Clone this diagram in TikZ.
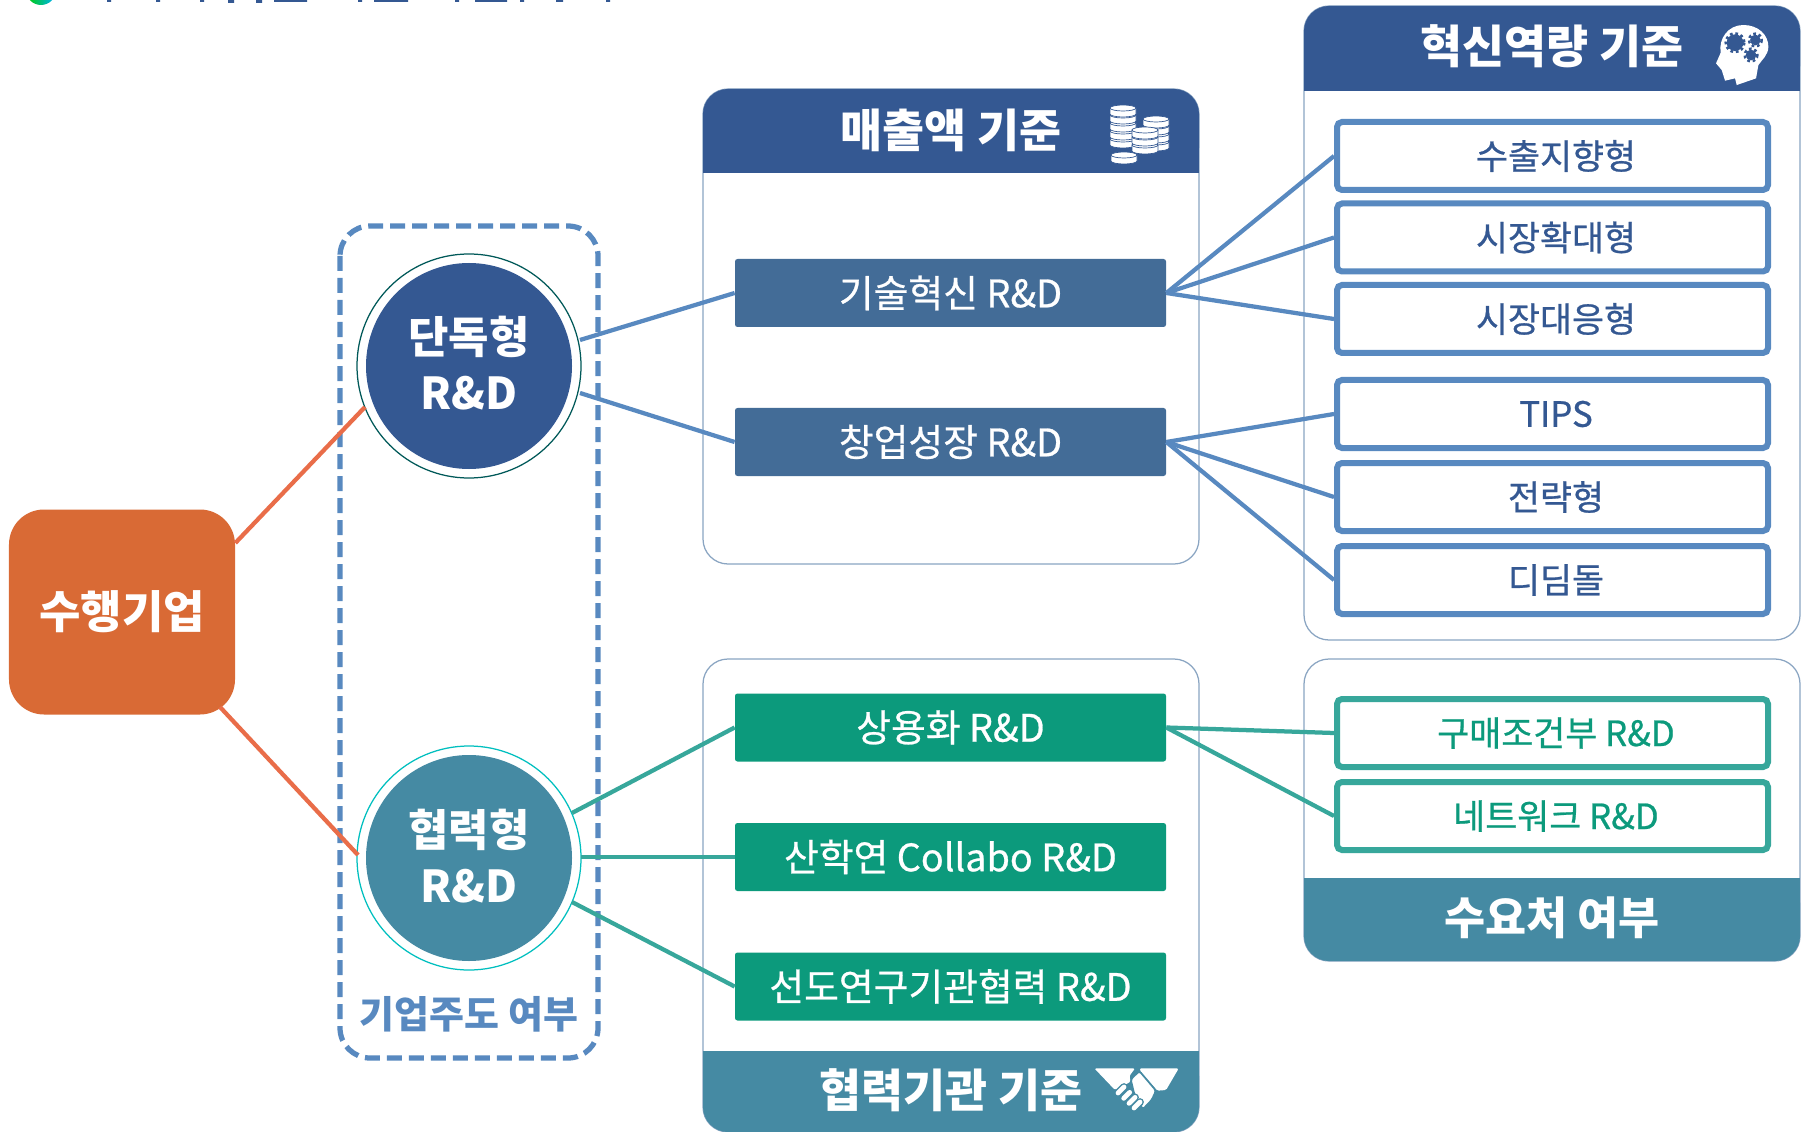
\documentclass[tikz,border=0pt]{standalone}
\usepackage{fontspec}
\setmainfont{Noto Sans CJK KR}
\newfontfamily\medf[FakeBold=0.7]{Noto Sans CJK KR}
\usetikzlibrary{calc}
\definecolor{navy}{HTML}{345892}
\definecolor{teal1}{HTML}{458AA3}
\definecolor{orng}{HTML}{D96A35}
\definecolor{orline}{HTML}{E96D49}
\definecolor{bluel}{HTML}{5889C0}
\definecolor{steel}{HTML}{436C97}
\definecolor{grn}{HTML}{0C9A7C}
\definecolor{grnl}{HTML}{37A79B}
\definecolor{pnl}{HTML}{8AA5C2}
% one disc of a coin stack: centre x, top y, half width
\newcommand{\coin}[3]{%
  \fill[white,draw=navy,line width=0.14mm] (#1-#3,#2) -- (#1-#3,#2+6) arc[start angle=180,end angle=0,x radius=#3,y radius=3] -- (#1+#3,#2) -- cycle;
  \fill[white,draw=navy,line width=0.14mm] (#1,#2) ellipse[x radius=#3,y radius=3];
}
\newcommand{\gear}[3]{%
  \fill[navy] (#1,#2) circle (#3);
  \draw[navy,line width=0.5mm,dash pattern=on 0.55mm off 0.55mm] (#1,#2) circle (#3+3);
}
\newcommand{\finger}[2]{%
  \draw[teal1,line width=1.55mm,line cap=round] (#1-9,#2+9) -- (#1+9,#2-9);
  \draw[white,line width=0.95mm,line cap=round] (#1-9,#2+9) -- (#1+9,#2-9);
}
\tikzset{x=0.2mm,y=-0.2mm,
 conn/.style={line width=0.85mm},
 bluec/.style={conn,draw=bluel},
 grnc/.style={conn,draw=grnl},
 orc/.style={conn,draw=orline},
 wbox/.style={draw=bluel,line width=1.2mm,fill=white,rounded corners=1mm,minimum width=86.2mm,minimum height=13.6mm,inner sep=0pt,text=navy,font=\fontsize{19.8}{24}\medf\selectfont,execute at begin node=\hspace*{1.4mm}},
 gbox/.style={wbox,draw=grnl,text=grn},
 bar/.style={fill=steel,rounded corners=0.5mm,minimum width=86.2mm,minimum height=13.6mm,inner sep=0pt,text=white,font=\fontsize{21.5}{25}\medf\selectfont},
 gbar/.style={bar,fill=grn},
 head/.style={text=white,inner sep=0pt,font=\fontsize{26}{30}\bfseries\selectfont},
 pnlb/.style={draw=pnl,line width=0.25mm,fill=white,rounded corners=5mm},
 disc/.style={circle,fill=navy,minimum size=41.2mm,inner sep=0pt},
 disctext/.style={inner sep=0pt,text=white,align=center,font=\fontsize{25}{31.5}\bfseries\selectfont},
 ring/.style={circle,minimum size=44.8mm,inner sep=0pt,line width=0.25mm},
}
\begin{document}
\begin{tikzpicture}
\useasboundingbox (0,0) rectangle (1807,1132);
\fill[white] (0,0) rectangle (1807,1132);
% cut-off title at the top edge
\shade[left color=green!80!black,right color=cyan!70!blue] (41,-10) circle (15);
\fill[navy] (107,0) rectangle (111,2) (156,0) rectangle (160,2) (200,0) rectangle (204,2)
 (228,0) rectangle (234,3) (256,0) rectangle (262,3) (274,0) rectangle (307,2)
 (358,0) rectangle (362,2) (374,0) rectangle (408,2) (455,0) rectangle (459,2)
 (475,0) rectangle (507,2) (520,0) rectangle (524,2) (556,0) rectangle (563,2) (606,0) rectangle (610,2);
% panels
\draw[pnlb] (703,89) rectangle (1199,564);
\fill[navy,rounded corners=5mm] (703,173) -- (703,89) -- (1199,89) -- (1199,173) -- cycle;
\fill[navy] (703,140) rectangle (1199,173);
\draw[pnlb] (1304,6) rectangle (1800,640);
\fill[navy,rounded corners=5mm] (1304,91) -- (1304,6) -- (1800,6) -- (1800,91) -- cycle;
\fill[navy] (1304,60) rectangle (1800,91);
\draw[pnlb] (703,659) rectangle (1199,1132);
\fill[teal1,rounded corners=5mm] (703,1051) -- (703,1132) -- (1199,1132) -- (1199,1051) -- cycle;
\fill[teal1] (703,1051) rectangle (1199,1090);
\draw[pnlb] (1304,659) rectangle (1800,961);
\fill[teal1,rounded corners=5mm] (1304,878) -- (1304,961) -- (1800,961) -- (1800,878) -- cycle;
\fill[teal1] (1304,878) rectangle (1800,915);
% dashed frame
\draw[bluel,line width=1.05mm,dash pattern=on 3mm off 1.4mm,rounded corners=6mm] (340,226) rectangle (598,1058);
% orange
\node[fill=orng,rounded corners=7mm,minimum width=45.2mm,minimum height=41mm,inner sep=0pt,text=white,font=\fontsize{25.6}{30}\bfseries\selectfont] (start) at (122,612) {수행기업};
\node[disc] (solo) at (469,366) {};
\node[disc,fill=teal1] (co) at (469,858) {};
\node[disctext] (solot) at (469,363) {단독형\\R\&D};
\node[disctext] (cot) at (469,856) {협력형\\R\&D};
\node[ring,draw=teal!70!black] (soloring) at (469,366) {};
\node[ring,draw=teal!50!cyan] (coring) at (469,858) {};
% bars
\node[bar] (b1) at (950.5,293) {기술혁신 R\&D};
\node[bar] (b2) at (950.5,442) {창업성장 R\&D};
\node[gbar] (g1) at (950.5,727.5) {상용화 R\&D};
\node[gbar] (g2) at (950.5,857) {산학연 Collabo R\&D};
\node[gbar] (g3) at (950.5,986.5) {선도연구기관협력 R\&D};
% right
\node[wbox] (r1) at (1552.5,156) {수출지향형};
\node[wbox] (r2) at (1552.5,237.5) {시장확대형};
\node[wbox] (r3) at (1552.5,319) {시장대응형};
\node[wbox] (r4) at (1552.5,414) {TIPS};
\node[wbox] (r5) at (1552.5,497) {전략형};
\node[wbox] (r6) at (1552.5,580) {디딤돌};
\node[gbox] (r7) at (1552.5,733) {구매조건부 R\&D};
\node[gbox] (r8) at (1552.5,816) {네트워크 R\&D};
% heads
\node[head] (h1) at (951,130) {매출액 기준};
\node[head] (h2) at (1552,46) {혁신역량 기준};
\node[head] (h3) at (951,1090) {협력기관 기준};
\node[head,font=\fontsize{25.4}{30}\bfseries\selectfont] (h4) at (1552,918) {수요처 여부};
\node[inner sep=0pt,text=bluel,font=\fontsize{21.6}{25}\bfseries\selectfont] (h5) at (469,1014) {기업주도 여부};
% connectors
\draw[orc] (start.east |- 0,543) -- ($(solo)+(-104,41)$);
\draw[orc] (220,707) -- ($(co)+(-111,-3)$);
\draw[bluec] ($(solo)+(111,-26)$) -- (b1.west);
\draw[bluec] ($(solo)+(111,27)$) -- (b2.west);
\draw[grnc] ($(co)+(103,-45)$) -- (g1.west);
\draw[grnc] ($(co)+(112,-1)$) -- (g2.west);
\draw[grnc] ($(co)+(103,44)$) -- (g3.west);
\foreach \a in {r1,r2,r3} \draw[bluec] (b1.east) -- (\a.west);
\foreach \a in {r4,r5,r6} \draw[bluec] (b2.east) -- (\a.west);
\foreach \a in {r7,r8} \draw[grnc] (g1.east) -- (\a.west);
% coin icon
\foreach \yy in {142,134,126,119} {\coin{1156}{\yy}{13}}
\foreach \yy in {139,131,123,115,108} {\coin{1123}{\yy}{13}}
\foreach \yy in {145,137,130} {\coin{1145}{\yy}{13}}
\coin{1124}{155}{13}
% head icon
\begin{scope}[shift={(1680,0)},x=0.0667mm,y=-0.0667mm]
\fill[white] (190,75) .. controls (235,75) and (265,105) .. (265,140)
  .. controls (265,165) and (245,180) .. (235,195) -- (228,235) -- (170,255) -- (165,235)
  -- (135,242) -- (125,210) -- (108,190) -- (122,158)
  .. controls (115,115) and (145,75) .. (190,75) -- cycle;
\gear{165}{128}{25}
\gear{226}{120}{16}
\gear{213}{165}{16}
\end{scope}
% handshake icon
\begin{scope}[shift={(1060,1040)},x=0.0667mm,y=-0.0667mm]
\fill[white,rounded corners=0.3mm] (103,85) -- (225,85) -- (208,108) -- (212,125) -- (165,150) -- cycle;
\fill[white,rounded corners=0.3mm] (238,85) -- (356,85) -- (318,150) -- (292,152) -- (245,100) -- cycle;
\fill[white,draw=teal1,line width=0.35mm,rounded corners=0.5mm] (212,118) -- (238,93) -- (288,152) -- (275,180) -- (248,208) -- (222,160) -- cycle;
\finger{183}{150}
\finger{200}{166}
\finger{216}{181}
\finger{231}{195}
\end{scope}
\end{tikzpicture}
\end{document}
